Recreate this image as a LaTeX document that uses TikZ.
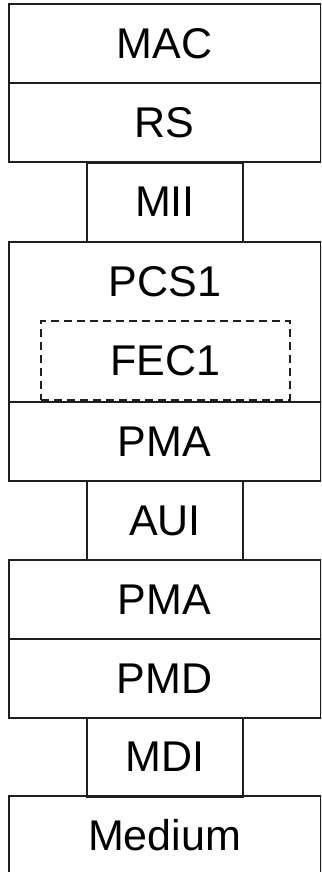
\documentclass[tikz,border=0pt]{standalone}
\usepackage{fontspec}
\setmainfont{Liberation Sans}
\begin{document}
\begin{tikzpicture}[x=1pt,y=-1pt,
  layer/.style={draw=black!88, line width=2pt, rectangle, inner sep=0pt, minimum height=79pt,
     font=\fontsize{43}{50}\selectfont},
  wide/.style={layer, minimum width=312pt},
  narrow/.style={layer, minimum width=156pt},
  fecbox/.style={draw=black!88, line width=2pt, dash pattern=on 8pt off 5pt, rectangle, inner sep=0pt,
     minimum width=249pt, minimum height=79pt, font=\fontsize{43}{50}\selectfont},
  lbl/.style={inner sep=0pt, font=\fontsize{43}{50}\selectfont}]
\useasboundingbox (0,0) rectangle (321,872);
\clip (0,0) rectangle (321,872);
\node[wide] (mac) at (164.5,43.5) {MAC};
\node[wide] (rs) at (164.5,122.5) {RS};
\node[narrow] (mii) at (165,202) {MII};
\node[wide, minimum height=160pt] (pcs) at (164.5,322) {};
\node[lbl] (pcslbl) at (165,282) {PCS1};
\node[fecbox] (fec) at (165.5,360.5) {FEC1};
\node[wide] (pma1) at (164.5,441.5) {PMA};
\node[narrow] (aui) at (165,520.5) {AUI};
\node[wide] (pma2) at (164.5,599.5) {PMA};
\node[wide] (pmd) at (164.5,678.5) {PMD};
\node[narrow] (mdi) at (165,757) {MDI};
\node[wide] (med) at (164.5,835.5) {Medium};
\end{tikzpicture}
\end{document}
